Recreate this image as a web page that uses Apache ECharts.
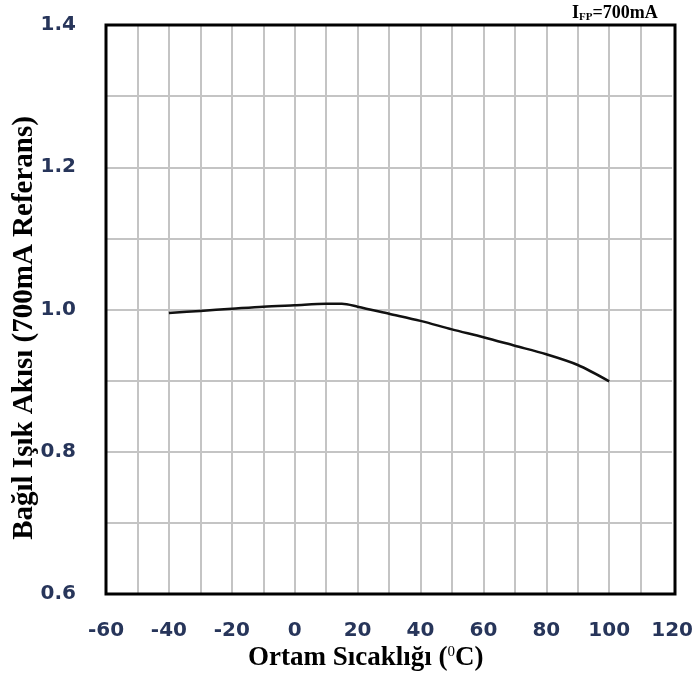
<!DOCTYPE html>
<html><head><meta charset="utf-8">
<script src="https://cdn.jsdelivr.net/npm/echarts@6/dist/echarts.min.js"></script>
<style>html,body{margin:0;padding:0;background:#fff}#c{width:696px;height:684px}</style>
</head><body><div id="c"></div>
<script>
const temps = [-40, -30, -20, -10, 0, 10, 15, 20, 30, 40, 50, 60, 70, 80, 90, 100];
const flux = [0.995, 0.998, 1.001, 1.004, 1.006, 1.008, 1.008, 1.004, 0.994, 0.984, 0.972, 0.961, 0.949, 0.937, 0.922, 0.899];
const xTitle = 'Ortam Sıcaklığı (';
const yTitle = 'Bağıl Işık Akısı (700mA Referans)';

const chart = echarts.init(document.getElementById('c'));
const labelStyle = {color: '#27355a', fontFamily: 'DejaVu Sans', fontWeight: 'bold', fontSize: 20};
chart.setOption({
  animation: false,
  grid: {left: 106, right: 21, top: 25, bottom: 90},
  xAxis: {
    type: 'value', min: -60, max: 120, interval: 10,
    axisLine: {show: false}, axisTick: {show: false},
    splitLine: {showMinLine: false, showMaxLine: false, lineStyle: {color: '#c4c4c4', width: 2}},
    axisLabel: Object.assign({margin: 27, formatter: v => (Math.round(v) % 20 === 0 ? String(Math.round(v)) : '')}, labelStyle)
  },
  yAxis: {
    type: 'value', min: 0.6, max: 1.4, interval: 0.1,
    axisLine: {show: false}, axisTick: {show: false},
    splitLine: {showMinLine: false, showMaxLine: false, lineStyle: {color: '#c4c4c4', width: 2}},
    axisLabel: Object.assign({margin: 30, formatter: v => (Math.round(v * 10) % 2 === 0 ? v.toFixed(1) : '')}, labelStyle)
  },
  series: [{
    type: 'line', data: temps.map((t, i) => [t, flux[i]]), smooth: 0.3, symbol: 'none',
    lineStyle: {color: '#111', width: 2.5}
  }],
  graphic: [
    {type: 'rect', shape: {x: 106, y: 25, width: 569, height: 569}, silent: true, z: 100,
      style: {fill: 'none', stroke: '#000', lineWidth: 3}},
    {type: 'text', left: 248, top: 645, style: {
      text: '{t|' + xTitle + '}{s|0}{t|C)}',
      rich: {t: {fontFamily: 'Liberation Serif', fontWeight: 'bold', fontSize: 27, fill: '#000'},
             s: {fontFamily: 'Liberation Serif', fontSize: 15, fill: '#000', verticalAlign: 'top', padding: [0, 0, 12, 0]}}
    }},
    {type: 'text', x: 25, y: 328, rotation: Math.PI / 2, style: {
      text: yTitle, fontFamily: 'Liberation Serif', fontWeight: 'bold', fontSize: 29, fill: '#000',
      align: 'center', verticalAlign: 'middle'
    }},
    {type: 'text', left: 572, top: 4, style: {
      text: '{t|I}{s|FP}{t|=700mA}',
      rich: {t: {fontFamily: 'Liberation Serif', fontWeight: 'bold', fontSize: 18, fill: '#000'},
             s: {fontFamily: 'Liberation Serif', fontWeight: 'bold', fontSize: 11, fill: '#000', padding: [9, 0, 0, 0]}}
    }}
  ]
});
</script></body></html>
